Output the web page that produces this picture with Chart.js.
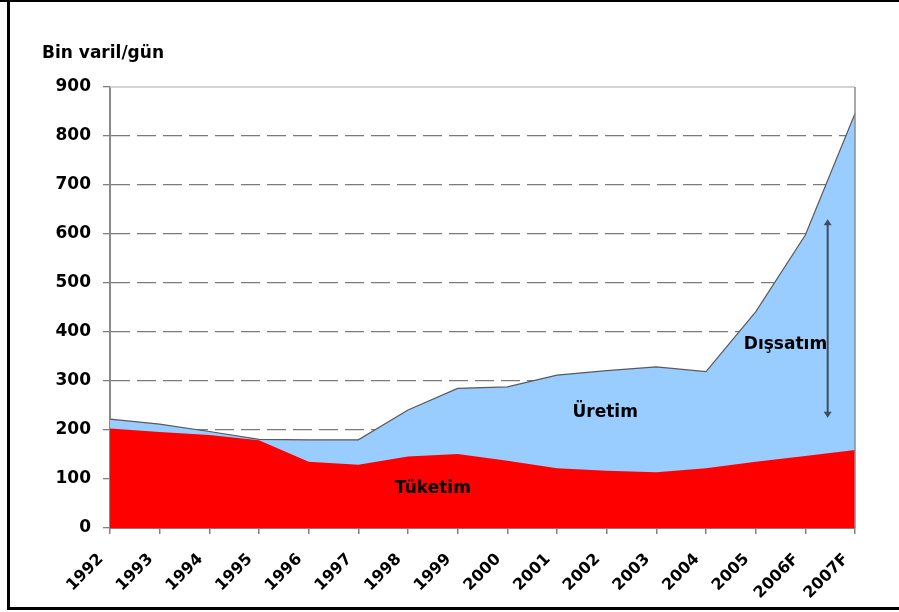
<!DOCTYPE html>
<html>
<head>
<meta charset="utf-8">
<script src="https://cdn.jsdelivr.net/npm/chart.js@4/dist/chart.umd.min.js"></script>
<style>
html,body{margin:0;padding:0;background:#fff;}
#wrap{width:899px;height:612px;position:relative;}
canvas{display:block;}
</style>
</head>
<body>
<div id="wrap"><canvas id="c" width="899" height="612"></canvas></div>
<script>
const categories = ['1992','1993','1994','1995','1996','1997','1998','1999','2000','2001','2002','2003','2004','2005','2006F','2007F'];
const tuketim = [203,196,190,179,135,129,146,151,137,122,117,114,122,135,147,159];
const uretim  = [222,212,197,181,180,180,241,285,288,312,321,329,319,441,598,846];
const yTicks = [0,100,200,300,400,500,600,700,800,900];
const yTitle = 'Bin varil/gün';
const seriesNames = ['Tüketim','Üretim','Dışsatım'];

const FONT = "'DejaVu Sans', 'Liberation Sans', sans-serif";

const decor = {
  id: 'decor',
  afterDatasetsDraw(chart) {
    const {ctx, chartArea: a, scales: {x, y}} = chart;
    ctx.save();
    // plot border top & right
    ctx.strokeStyle = '#c4c4c4';
    ctx.lineWidth = 1.5;
    ctx.beginPath();
    ctx.moveTo(a.left, a.top);
    ctx.lineTo(a.right, a.top);
    ctx.stroke();
    ctx.strokeStyle = '#8c8c8c';
    ctx.beginPath();
    ctx.moveTo(a.right, a.top);
    ctx.lineTo(a.right, a.bottom);
    ctx.stroke();

    // double arrow (export span)
    const ax = x.getPixelForValue(14.45);
    const yTop = y.getPixelForValue(630);
    const yBot = y.getPixelForValue(225);
    ctx.strokeStyle = '#3e4d5c';
    ctx.fillStyle = '#3e4d5c';
    ctx.lineWidth = 2;
    ctx.beginPath();
    ctx.moveTo(ax, yTop + 4);
    ctx.lineTo(ax, yBot - 4);
    ctx.stroke();
    ctx.beginPath();
    ctx.moveTo(ax, yTop); ctx.lineTo(ax - 4, yTop + 6); ctx.lineTo(ax + 4, yTop + 6); ctx.closePath(); ctx.fill();
    ctx.beginPath();
    ctx.moveTo(ax, yBot); ctx.lineTo(ax - 4, yBot - 6); ctx.lineTo(ax + 4, yBot - 6); ctx.closePath(); ctx.fill();

    // series labels
    ctx.fillStyle = '#000';
    ctx.font = 'bold 17px ' + FONT;
    ctx.textAlign = 'center';
    ctx.textBaseline = 'middle';
    ctx.fillText(seriesNames[0], x.getPixelForValue(6.5), y.getPixelForValue(80));
    ctx.fillText(seriesNames[1], x.getPixelForValue(9.97), y.getPixelForValue(235));
    ctx.fillText(seriesNames[2], x.getPixelForValue(13.6), y.getPixelForValue(375));
    ctx.restore();
  },
  afterDraw(chart) {
    const {ctx} = chart;
    ctx.save();
    // y-axis title
    ctx.fillStyle = '#000';
    ctx.font = 'bold 17px ' + FONT;
    ctx.textAlign = 'left';
    ctx.textBaseline = 'alphabetic';
    ctx.fillText(yTitle, 42, 58);
    // picture frame
    ctx.fillStyle = '#000';
    ctx.fillRect(0, 0, 899, 2);
    ctx.fillRect(7, 0, 3, 610);
    ctx.fillRect(7, 607, 892, 3);
    ctx.restore();
  }
};

new Chart(document.getElementById('c'), {
  type: 'line',
  data: {
    labels: categories,
    datasets: [
      {
        label: seriesNames[0],
        data: tuketim,
        backgroundColor: '#ff0000',
        borderColor: '#ff0000',
        borderWidth: 0,
        fill: 'origin',
        pointRadius: 0,
        tension: 0
      },
      {
        label: seriesNames[1],
        data: uretim,
        backgroundColor: '#99ccff',
        borderColor: '#5a5a5a',
        borderWidth: 1.2,
        fill: 'origin',
        pointRadius: 0,
        tension: 0
      }
    ]
  },
  options: {
    responsive: false,
    animation: false,
    devicePixelRatio: 1,
    layout: { padding: { left: 0, right: 44, top: 87, bottom: 0 } },
    plugins: { legend: { display: false }, tooltip: { enabled: false } },
    scales: {
      x: {
        offset: false,
        afterFit(s) { s.height = 84; },
        grid: { drawOnChartArea: false, drawTicks: true, tickLength: 6, color: '#808080', tickColor: '#808080', lineWidth: 1.5 },
        border: { display: true, color: '#808080', width: 2 },
        ticks: {
          autoSkip: false, maxRotation: 45, minRotation: 45, padding: 16, labelOffset: -9,
          color: '#000', font: { family: FONT, weight: 'bold', size: 16 }
        }
      },
      y: {
        min: 0, max: 900,
        afterFit(s) { s.width = 110; },
        afterBuildTicks(s) { s.ticks = yTicks.map(v => ({ value: v })); },
        grid: {
          drawTicks: true, tickLength: 7,
          color: (c) => (c.tick && (c.tick.value === 0 || c.tick.value === 900)) ? 'rgba(0,0,0,0)' : '#7a7a7a',
          tickColor: '#808080',
          lineWidth: 1.3
        },
        border: { display: true, color: '#8a8a8a', width: 2, dash: [19, 7] },
        ticks: {
          padding: 12, color: '#000',
          font: { family: FONT, weight: 'bold', size: 17 }
        }
      }
    }
  },
  plugins: [decor]
});
</script>
</body>
</html>
